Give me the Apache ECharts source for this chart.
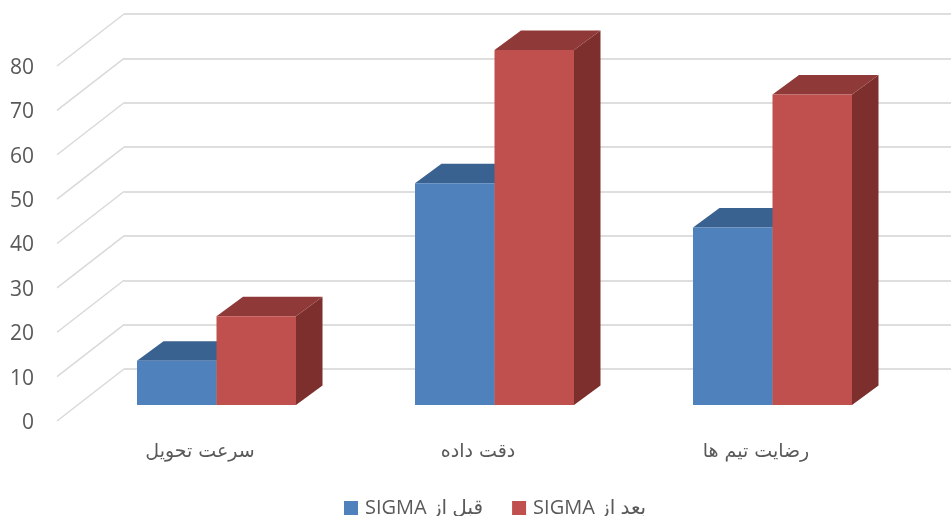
<!DOCTYPE html>
<html>
<head>
<meta charset="utf-8">
<style>
    html, body { margin: 0; padding: 0; background: #fff; }
    #chart { width: 951px; height: 516px; }
</style>
<script src="https://cdn.jsdelivr.net/npm/echarts@6/dist/echarts.min.js"></script>
</head>
<body>
<div id="chart"></div>
<script>
    // data
    const categories = ["سرعت تحویل", "دقت داده", "رضایت تیم ها"];
    const beforeSigma = [10, 50, 40];
    const afterSigma = [20, 80, 70];
    const gridTicks = [0, 10, 20, 30, 40, 50, 60, 70, 80];
    const beforeName = "\u202Bقبل از SIGMA\u202C";
    const afterName = "\u202Bبعد از SIGMA\u202C";

    const textColor = "#595959";
    const lineColor = "#dedede";
    const barWidth = 79.5;
    // depth of the fake 3d bar, and of the floor
    const barDepth = [26.5, -19.5];
    const wallDepth = [67, -52];

    const chart = echarts.init(document.getElementById("chart"));

    function polygon(points, fill) {
        return { type: "polygon", shape: { points: points }, style: { fill: fill } };
    }

    // one bar: side, top and front face
    function bar3d(slot, front, top, side) {
        return function (params, api) {
            const base = api.coord([api.value(0), 0]);
            const head = api.coord([api.value(0), api.value(1)]);
            const x0 = base[0] + slot * barWidth;
            const x1 = x0 + barWidth;
            const dx = barDepth[0];
            const dy = barDepth[1];
            return {
                type: "group",
                children: [
                    polygon([[x1, head[1]], [x1 + dx, head[1] + dy], [x1 + dx, base[1] + dy], [x1, base[1]]], side),
                    polygon([[x0, head[1]], [x0 + dx, head[1] + dy], [x1 + dx, head[1] + dy], [x1, head[1]]], top),
                    polygon([[x0, head[1]], [x1, head[1]], [x1, base[1]], [x0, base[1]]], front),
                ],
            };
        };
    }

    const options = {
        animation: false,
        textStyle: { fontFamily: "'Open Sans', 'DejaVu Sans', sans-serif" },
        grid: [
            // back wall, horizontal lines
            { left: 124, right: 0, top: 14, height: 355 },
            // tick labels, a little below the front edge of the floor
            { left: 57, width: 67, top: 68, height: 355 },
            // plane of the bars
            { left: 77.5, width: 834, top: 50, height: 355 },
        ],
        xAxis: [
            { gridIndex: 0, type: "value", min: 0, max: 1, show: false },
            { gridIndex: 1, type: "value", min: 0, max: 1, show: false },
            {
                gridIndex: 2,
                type: "category",
                data: categories,
                axisLine: { show: false },
                axisTick: { show: false },
                axisLabel: {
                    margin: 38,
                    padding: [0, 33, 0, 0], // labels sit left of the band centre
                    color: textColor,
                    fontSize: 19,
                    fontFamily: "'DejaVu Sans', sans-serif",
                },
            },
        ],
        yAxis: [
            {
                gridIndex: 0,
                type: "value",
                min: 0,
                max: 80,
                interval: 10,
                axisLine: { show: false },
                axisTick: { show: false },
                axisLabel: { show: false },
                splitLine: { show: true, lineStyle: { color: lineColor, width: 2 } },
            },
            {
                gridIndex: 1,
                type: "value",
                min: 0,
                max: 80,
                interval: 10,
                axisLine: { show: false },
                axisTick: { show: false },
                splitLine: { show: false },
                axisLabel: {
                    margin: 23,
                    color: textColor,
                    fontSize: 21,
                    fontFamily: "'Open Sans', sans-serif",
                },
            },
            { gridIndex: 2, type: "value", min: 0, max: 80, interval: 10, show: false },
        ],
        legend: {
            left: 344,
            top: 498,
            padding: 0,
            itemWidth: 14,
            itemHeight: 14,
            itemGap: 29,
            icon: "rect",
            data: [beforeName, afterName],
            textStyle: {
                color: textColor,
                fontSize: 20,
                fontFamily: "'Open Sans', 'DejaVu Sans', sans-serif",
                padding: [0, 0, 0, 2],
            },
        },
        series: [
            {
                // floor lines, from the back wall out to the front edge
                type: "custom",
                name: "floor",
                xAxisIndex: 0,
                yAxisIndex: 0,
                silent: true,
                clip: false,
                data: gridTicks.map((v) => [0, v]),
                renderItem: function (params, api) {
                    const p = api.coord([0, api.value(1)]);
                    return {
                        type: "line",
                        shape: { x1: p[0], y1: p[1], x2: p[0] - wallDepth[0], y2: p[1] - wallDepth[1] },
                        style: { stroke: "#d9d9d9", lineWidth: 1.5 },
                    };
                },
            },
            {
                type: "custom",
                name: beforeName,
                xAxisIndex: 2,
                yAxisIndex: 2,
                clip: false,
                itemStyle: { color: "#4f81bd" },
                data: beforeSigma.map((v, i) => [i, v]),
                renderItem: bar3d(-1, "#4f81bd", "#3a6290", "#2f4f75"),
            },
            {
                type: "custom",
                name: afterName,
                xAxisIndex: 2,
                yAxisIndex: 2,
                clip: false,
                itemStyle: { color: "#c0504d" },
                data: afterSigma.map((v, i) => [i, v]),
                renderItem: bar3d(0, "#c0504d", "#8f3a38", "#7d2f2d"),
            },
        ],
    };
    chart.setOption(options);
</script>
</body>
</html>
